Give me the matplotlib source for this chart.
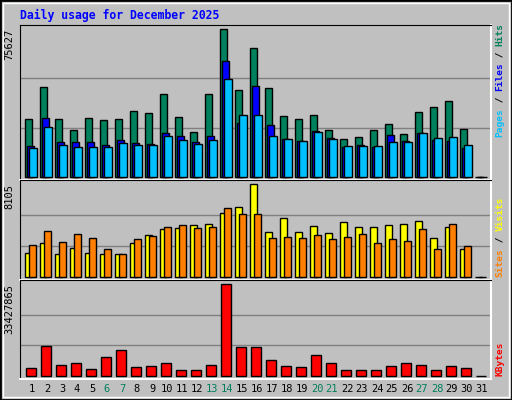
import numpy as np
import matplotlib
matplotlib.use("Agg")
import matplotlib.pyplot as plt

days = list(range(1, 32))
weekends = [6, 7, 13, 14, 20, 21, 27, 28]

hits = [29430, 45855, 29430, 23783, 29943, 28916, 29430, 33536, 32509, 42262,
        30456, 22757, 42262, 75627, 44315, 65874, 45342, 30969, 29430, 31482,
        23783, 19163, 20190, 23783, 26863, 21730, 33023, 35589, 38669, 24296, 0]
files = [15570, 29943, 17623, 17623, 17623, 16083, 18650, 17110, 16597, 22243,
         20703, 17623, 20703, 59201, 27376, 46368, 26349, 19163, 18137, 23270,
         19677, 15057, 16083, 15057, 21216, 18137, 22243, 18650, 18137, 14544, 0]
pages = [14544, 25323, 16083, 15057, 15057, 15057, 17110, 16083, 16083, 20703,
         18650, 16597, 18650, 49961, 31482, 31482, 20703, 19163, 18137, 22757,
         19163, 15570, 15570, 15570, 17623, 17623, 22243, 19677, 20190, 16083, 0]
visits = [2048, 2926, 1960, 2487, 2048, 1960, 1960, 2926, 3628, 4155,
          4243, 4506, 4594, 5559, 6086, 8105, 3892, 5121, 3892, 4418,
          3804, 4769, 4330, 4330, 4506, 4594, 4857, 3365, 4330, 2399, 0]
sites = [2750, 3979, 3014, 3716, 3365, 2399, 1960, 3277, 3540, 4330,
         4506, 4243, 4330, 5998, 5472, 5472, 3365, 3453, 3365, 3628,
         3277, 3453, 3716, 2926, 3277, 3102, 4155, 2399, 4594, 2663, 0]
kbytes = [2684000, 10736000, 3782000, 4514000, 2318000, 6710000, 9272000,
          3050000, 3416000, 4514000, 1952000, 1952000, 3782000, 33427865,
          10370000, 10370000, 5612000, 3416000, 3050000, 7442000, 4514000,
          1952000, 1952000, 1952000, 3416000, 4514000, 3782000, 1952000,
          3416000, 2684000, 0]

W, H = 512, 400
BG = "#c0c0c0"
FONT = "DejaVu Sans Mono"
fig = plt.figure(figsize=(W / 100, H / 100), dpi=100, facecolor=BG)

# outer frame
fig.patches.append(plt.Rectangle((0, 0), 1, 1, transform=fig.transFigure,
                                 fill=False, ec="black", lw=2))
fig.patches.append(plt.Rectangle((3 / W, 3 / H), 1 - 6 / W, 1 - 6 / H,
                                 transform=fig.transFigure, fill=False,
                                 ec="white", lw=1))

fig.text(20 / W, 1 - 15 / H, "Daily usage for December 2025", color="#0000ff",
         family=FONT, weight="bold", fontsize=8.3, va="center")


def panel(top, bottom, lo, hi):
    ax = fig.add_axes([20 / W, 1 - bottom / H, 471 / W, (bottom - top) / H])
    ax.set_facecolor(BG)
    ax.set_xlim(0.267, 31.67)
    ax.set_ylim(lo, hi)
    ax.set_xticks([])
    ax.set_yticks([])
    for s in ("left", "top"):
        ax.spines[s].set_color("black")
    for s in ("right", "bottom"):
        ax.spines[s].set_color("white")
        ax.spines[s].set_linewidth(1.5)
    return ax


d = np.array(days, dtype=float)
kw = dict(align="edge", edgecolor="black", linewidth=1)

# Hits / Files / Pages
m = max(hits)
ax1 = panel(25, 180, -3.3 / 147.4 * m, 1.029 * m)
for f in (1 / 3, 2 / 3):
    ax1.axhline(f * m, color="#808080", lw=1, zorder=0)
ax1.bar(d - 0.38, hits, 0.47, color="#00805c", **kw)
ax1.bar(d - 0.25, files, 0.47, color="#0000ff", **kw)
ax1.bar(d - 0.11, pages, 0.51, color="#00c0ff", **kw)
fig.text(9 / W, 1 - 29 / H, str(max(hits)), rotation=90, family=FONT,
         fontsize=7.5, va="top", ha="center")

# Visits / Sites
m = max(visits)
ax2 = panel(180, 279.7, -3 / 92.4 * m, 1.046 * m)
for f in (1 / 3, 2 / 3):
    ax2.axhline(f * m, color="#808080", lw=1, zorder=0)
ax2.bar(d - 0.38, visits, 0.47, color="#ffff00", **kw)
ax2.bar(d - 0.11, sites, 0.47, color="#ff8000", **kw)
fig.text(9 / W, 1 - 184 / H, str(max(visits)), rotation=90, family=FONT,
         fontsize=7.5, va="top", ha="center")

# KBytes
m = max(kbytes)
ax3 = panel(279.7, 379, -3.3 / 91.4 * m, 1.05 * m)
for f in (1 / 3, 2 / 3):
    ax3.axhline(f * m, color="#808080", lw=1, zorder=0)
ax3.bar(d - 0.31, kbytes, 0.67, color="#ff0000", **kw)
fig.text(9 / W, 1 - 284 / H, str(max(kbytes)), rotation=90, family=FONT,
         fontsize=7.5, va="top", ha="center")

# day labels
for day in days:
    x = 32 + 15 * (day - 1)
    fig.text(x / W, 1 - 389 / H, str(day), family=FONT, fontsize=7.5,
             ha="center", va="center",
             color="#00805c" if day in weekends else "black")


def side_label(y_bottom, parts, step=5.7):
    y = y_bottom
    for txt, col in parts:
        fig.text(500 / W, 1 - y / H, txt, rotation=90, family=FONT,
                 weight="bold", fontsize=step * 72 / 100 / 0.602, color=col,
                 ha="center", va="bottom")
        y -= step * len(txt)


side_label(137, [("Pages", "#00c0ff"), (" / ", "black"), ("Files", "#0000ff"),
                 (" / ", "black"), ("Hits", "#00805c")])
side_label(277, [("Sites", "#ff8000"), (" / ", "black"), ("Visits", "#ffff00")])
side_label(376, [("KBytes", "#ff0000")])

fig.savefig("out.png", dpi=100, facecolor=BG)
